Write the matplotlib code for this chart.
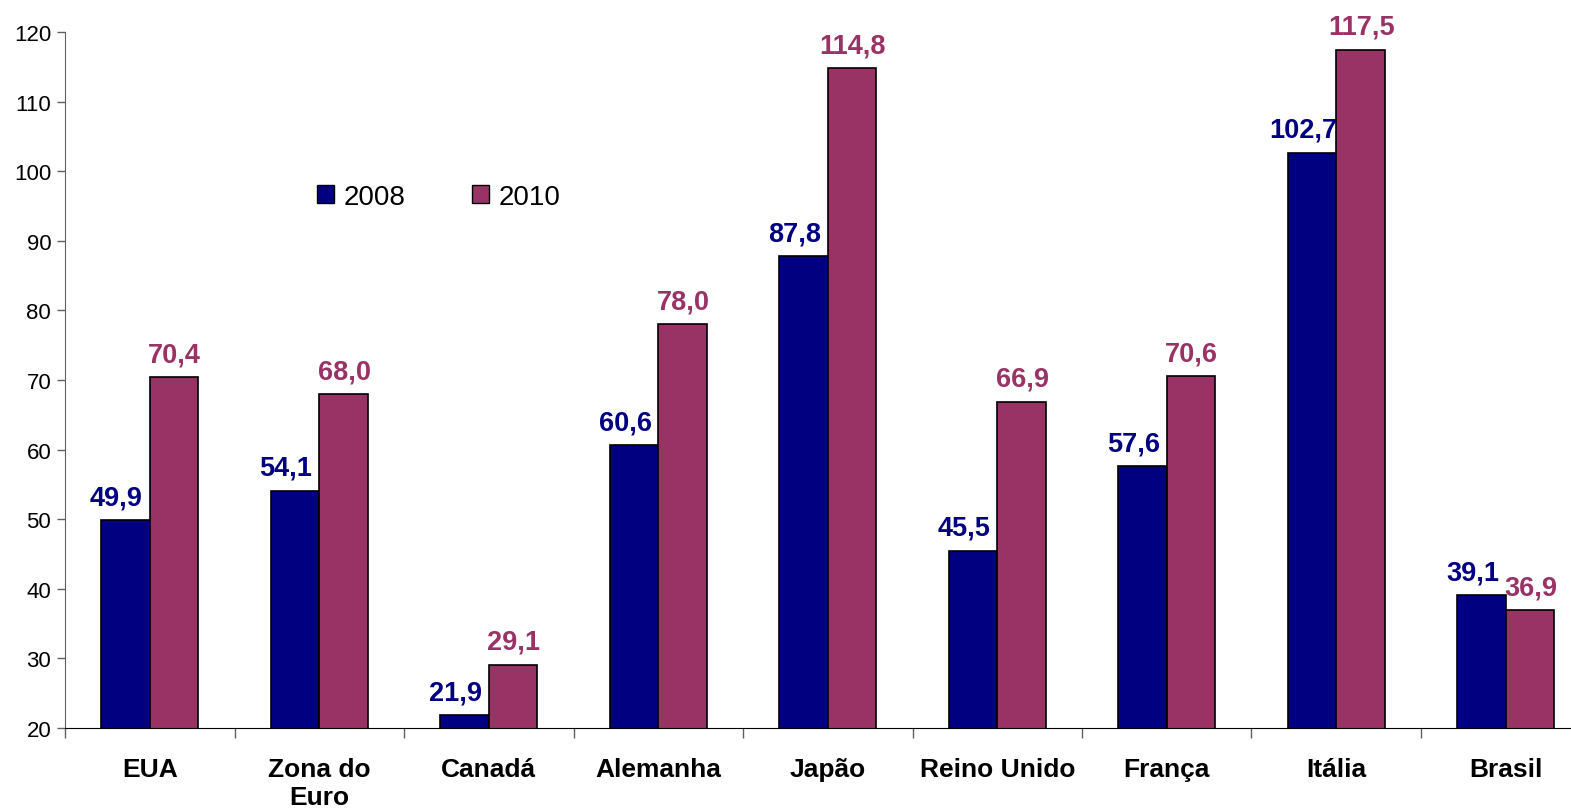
import numpy as np
import matplotlib
matplotlib.use('Agg')
import matplotlib.pyplot as plt
from matplotlib.patches import Patch

plt.rcParams['font.family'] = ['Liberation Sans', 'DejaVu Sans']

paises = ['EUA', 'Zona do\nEuro', 'Canadá', 'Alemanha', 'Japão',
          'Reino Unido', 'França', 'Itália', 'Brasil']
v2008 = [49.9, 54.1, 21.9, 60.6, 87.8, 45.5, 57.6, 102.7, 39.1]
v2010 = [70.4, 68.0, 29.1, 78.0, 114.8, 66.9, 70.6, 117.5, 36.9]

cor08 = '#000080'
cor10 = '#993366'

fig = plt.figure(figsize=(15.71, 8.12), dpi=100)
# axis runs a bit past the right edge of the image, like the original
ax = fig.add_axes([0.0414, 0.1022, 0.971, 0.857])

x = np.arange(len(paises))
w = 0.286
b1 = ax.bar(x - w / 2, v2008, w, color=cor08, edgecolor='black', linewidth=1.2)
b2 = ax.bar(x + w / 2, v2010, w, color=cor10, edgecolor='black', linewidth=1.2)

def fmt(v):
    return f'{v:.1f}'.replace('.', ',')

for r, v in zip(b1, v2008):
    ax.annotate(fmt(v), (r.get_x() + r.get_width() / 2, v), xytext=(-6.5, 7),
                textcoords='offset points', ha='center', va='bottom',
                fontsize=19.5, fontweight='bold', color=cor08)
for r, v in zip(b2, v2010):
    ax.annotate(fmt(v), (r.get_x() + r.get_width() / 2, v), xytext=(0.5, 7),
                textcoords='offset points', ha='center', va='bottom',
                fontsize=19.5, fontweight='bold', color=cor10)

ax.set_ylim(20, 120)
ax.set_yticks(np.arange(20, 121, 10))
ax.set_xlim(-0.5, len(paises) - 0.5)
ax.set_xticks(x)
ax.set_xticklabels(paises, fontsize=19, fontweight='bold', va='top')
ax.tick_params(axis='x', length=0, pad=21)
ax.set_xticks(np.arange(-0.5, len(paises), 1), minor=True)
ax.tick_params(axis='x', which='minor', length=7, width=1, color='#606060')
ax.tick_params(axis='y', labelsize=16, length=6, width=1, color='#606060', pad=4)

for s in ['top', 'right']:
    ax.spines[s].set_visible(False)
ax.spines['left'].set_color('#606060')
ax.spines['bottom'].set_color('black')

handles = [Patch(facecolor=cor08, edgecolor='black'),
           Patch(facecolor=cor10, edgecolor='black')]
fig.legend(handles, ['2008', '2010'], loc='center left',
           bbox_to_anchor=(317 / 1571, 1 - 198 / 812), ncol=2, frameon=False,
           fontsize=20, handlelength=0.6, handleheight=0.6, handletextpad=0.35,
           columnspacing=2.4, borderpad=0, borderaxespad=0)

fig.savefig('out.png', dpi=100)
